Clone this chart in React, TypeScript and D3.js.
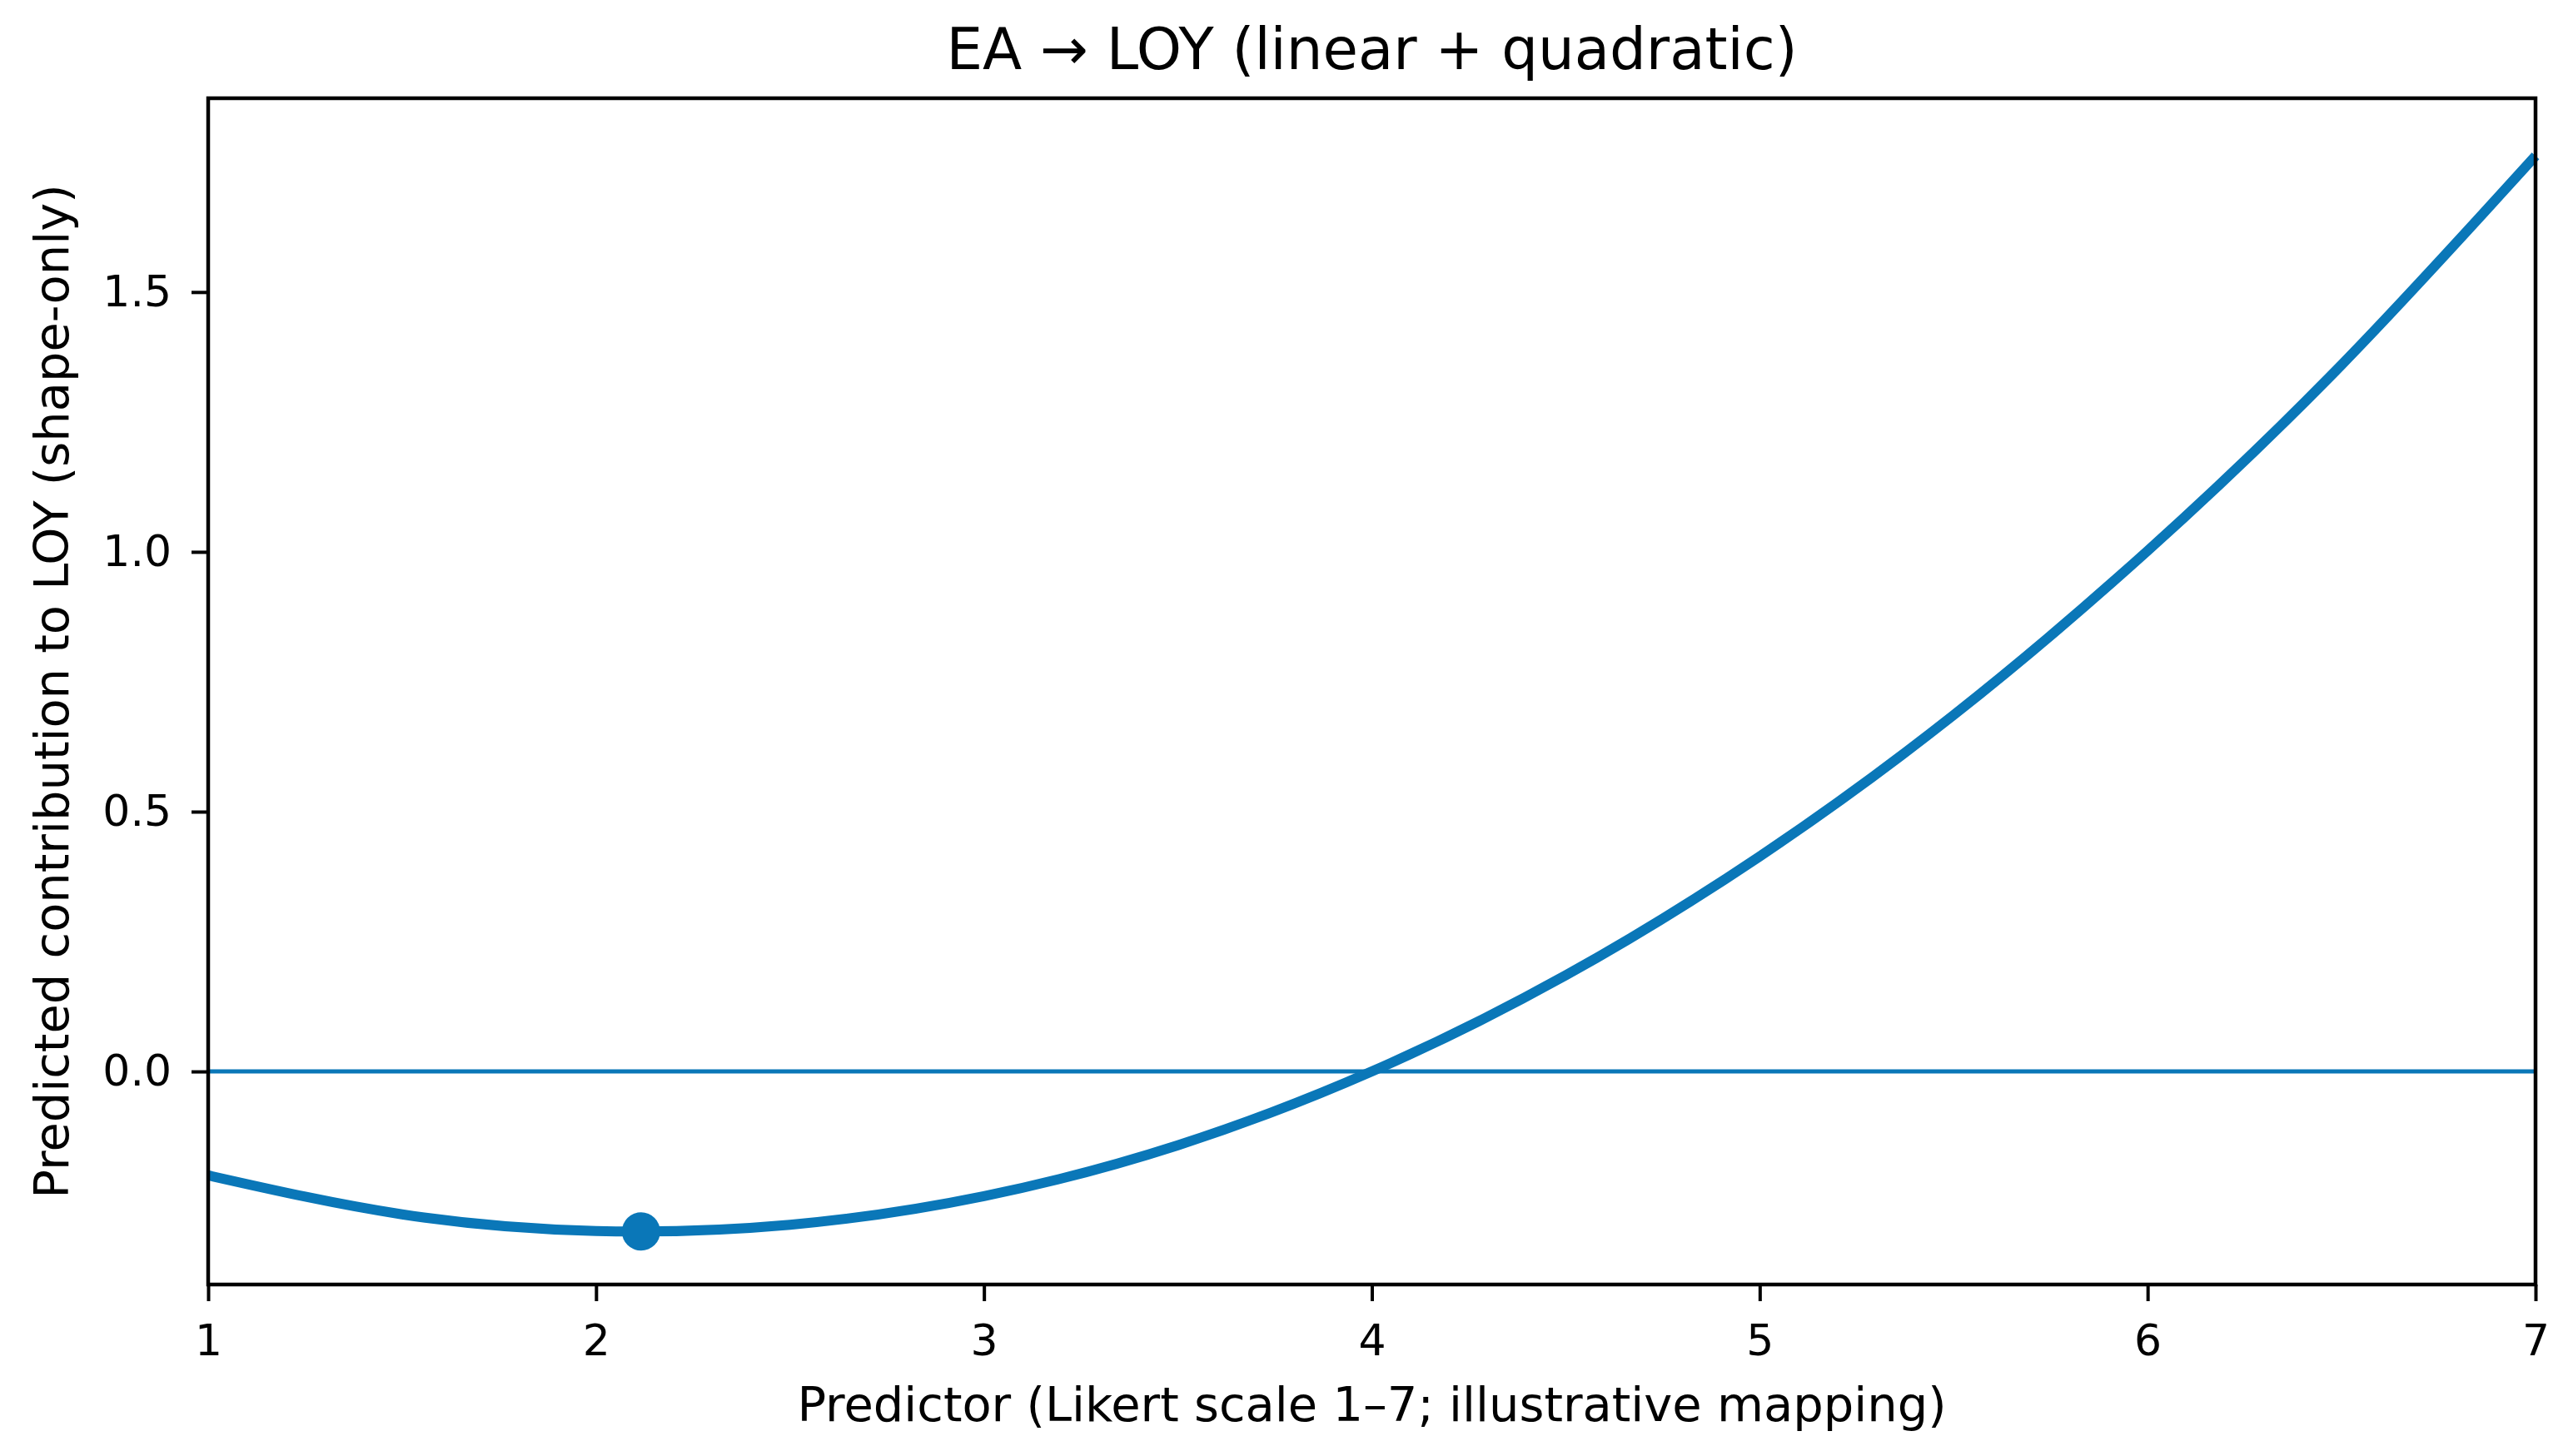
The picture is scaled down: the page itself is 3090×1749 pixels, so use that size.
import React, { useEffect, useRef } from "react";
import * as d3 from "d3";

// values
const predictor = [1, 1.5, 2, 2.5, 3, 3.5, 4, 4.5, 5, 5.5, 6, 6.5, 7];
const contribution = [-0.2, -0.275, -0.307, -0.295, -0.24, -0.142, 0.0, 0.185, 0.414, 0.686, 1.002, 1.36, 1.762];
const turningPoint = { x: 2.116, y: -0.308 };
const xTicks = [1, 2, 3, 4, 5, 6, 7];
const yTicks = [0.0, 0.5, 1.0, 1.5];

const title = "EA \u2192 LOY (linear + quadratic)";
const xLabel = "Predictor (Likert scale 1\u20137; illustrative mapping)";
const yLabel = "Predicted contribution to LOY (shape-only)";

const WIDTH = 3090;
const HEIGHT = 1749;
const BLUE = "#0a77b8";
const FONT = "DejaVu Sans, sans-serif";

export default function App() {
  const svgRef = useRef<SVGSVGElement | null>(null);

  useEffect(() => {
    if (!svgRef.current) return;
    const margin = { top: 118, right: 45, bottom: 206, left: 250 };
    const w = WIDTH - margin.left - margin.right;
    const h = HEIGHT - margin.top - margin.bottom;

    const svg = d3.select(svgRef.current);
    svg.selectAll("*").remove();
    svg.attr("width", WIDTH).attr("height", HEIGHT);
    svg.append("rect").attr("width", WIDTH).attr("height", HEIGHT).attr("fill", "#ffffff");

    const g = svg.append("g").attr("transform", `translate(${margin.left},${margin.top})`);

    const x = d3.scaleLinear().domain([1, 7]).range([0, w]);
    const y = d3.scaleLinear().domain([-0.41, 1.873]).range([h, 0]);

    // zero reference line
    g.append("line")
      .attr("x1", x(1))
      .attr("x2", x(7))
      .attr("y1", y(0))
      .attr("y2", y(0))
      .attr("stroke", BLUE)
      .attr("stroke-width", 5);

    // curve
    const pts = predictor.map((p, i) => [p, contribution[i]] as [number, number]);
    const line = d3
      .line<[number, number]>()
      .x((d) => x(d[0]))
      .y((d) => y(d[1]))
      .curve(d3.curveNatural);

    g.append("path")
      .datum(pts)
      .attr("fill", "none")
      .attr("stroke", BLUE)
      .attr("stroke-width", 12)
      .attr("stroke-linecap", "butt")
      .attr("d", line);

    g.append("circle")
      .attr("cx", x(turningPoint.x))
      .attr("cy", y(turningPoint.y))
      .attr("r", 23)
      .attr("fill", BLUE);

    // axes
    const xAxis = d3.axisBottom(x).tickValues(xTicks).tickSize(20).tickPadding(28).tickFormat(d3.format("d") as any);
    const yAxis = d3.axisLeft(y).tickValues(yTicks).tickSize(20).tickPadding(24).tickFormat(d3.format(".1f") as any);

    const gx = g.append("g").attr("transform", `translate(0,${h})`).call(xAxis);
    const gy = g.append("g").call(yAxis);
    [gx, gy].forEach((a) => {
      a.select(".domain").remove();
      a.selectAll("line").attr("stroke", "#000").attr("stroke-width", 4);
      a.selectAll("text").attr("font-family", FONT).attr("font-size", 52).attr("fill", "#000");
    });

    // frame
    g.append("rect")
      .attr("width", w)
      .attr("height", h)
      .attr("fill", "none")
      .attr("stroke", "#000")
      .attr("stroke-width", 4.5);

    svg.append("text")
      .attr("x", margin.left + w / 2)
      .attr("y", 83)
      .attr("text-anchor", "middle")
      .attr("font-family", FONT)
      .attr("font-size", 69)
      .text(title);

    svg.append("text")
      .attr("x", margin.left + w / 2)
      .attr("y", 1707)
      .attr("text-anchor", "middle")
      .attr("font-family", FONT)
      .attr("font-size", 57.5)
      .text(xLabel);

    svg.append("text")
      .attr("transform", `translate(82,${margin.top + h / 2}) rotate(-90)`)
      .attr("text-anchor", "middle")
      .attr("font-family", FONT)
      .attr("font-size", 57.5)
      .text(yLabel);
  }, []);

  return <svg ref={svgRef} style={{ display: "block", position: "absolute", left: 0, top: 0 }} />;
}
